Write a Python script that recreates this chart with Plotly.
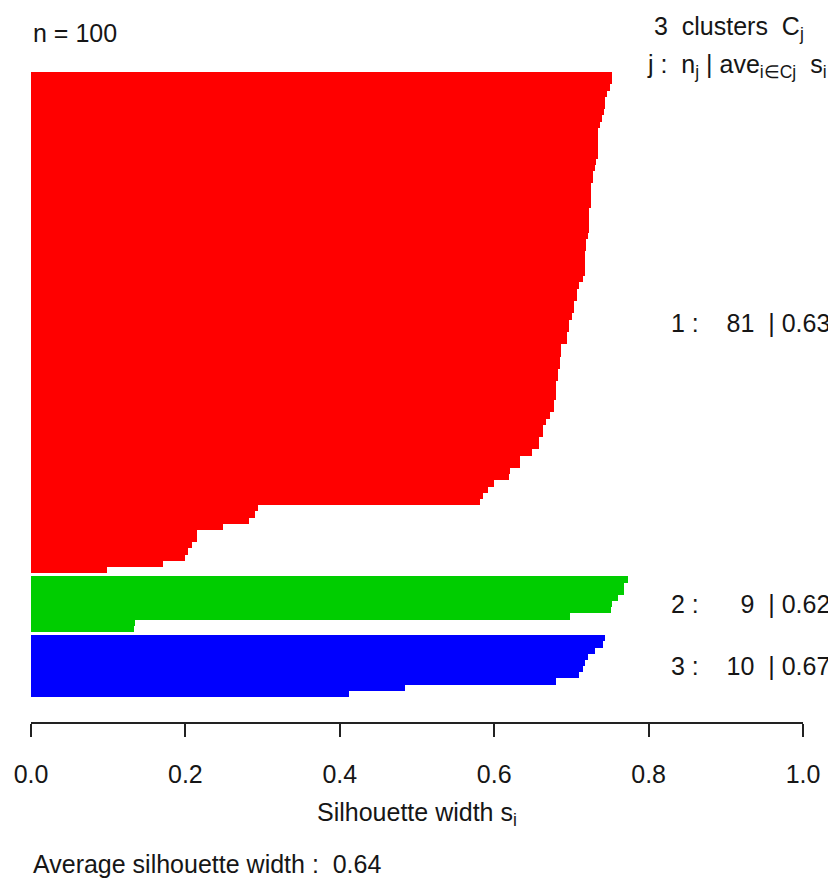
import plotly.graph_objects as go

# ---------------- data ----------------
cluster_ids = ["1", "2", "3"]
cluster_colors = ["#FF0000", "#00CD00", "#0000FF"]

sil_cluster1 = [
    0.753, 0.753, 0.750, 0.746, 0.744, 0.744, 0.742, 0.740, 0.737,
    0.735, 0.735, 0.734, 0.734, 0.734, 0.732, 0.730, 0.728, 0.728,
    0.726, 0.726, 0.726, 0.726, 0.723, 0.723, 0.723, 0.723, 0.721,
    0.719, 0.719, 0.717, 0.717, 0.717, 0.717, 0.715, 0.710, 0.707,
    0.707, 0.704, 0.704, 0.701, 0.697, 0.697, 0.694, 0.694, 0.687,
    0.687, 0.685, 0.685, 0.682, 0.682, 0.680, 0.680, 0.680, 0.678,
    0.678, 0.672, 0.667, 0.663, 0.663, 0.658, 0.658, 0.649, 0.633,
    0.633, 0.621, 0.619, 0.600, 0.592, 0.586, 0.581, 0.294, 0.290,
    0.283, 0.249, 0.215, 0.215, 0.209, 0.204, 0.199, 0.171, 0.098,
]
sil_cluster2 = [0.773, 0.768, 0.768, 0.761, 0.753, 0.751, 0.698, 0.135, 0.133]
sil_cluster3 = [0.744, 0.741, 0.731, 0.722, 0.717, 0.715, 0.710, 0.680, 0.485, 0.412]

cluster_avg_labels = ["0.63", "0.62", "0.67"]
overall_avg_label = "0.64"
n_total_label = "100"

x_tick_vals = [0.0, 0.2, 0.4, 0.6, 0.8, 1.0]
x_tick_text = ["0.0", "0.2", "0.4", "0.6", "0.8", "1.0"]

# ---------------- figure ----------------
OFF = 8                      # page body margin of the html page
W, H = 836 - OFF, 880 - OFF
X0_PIX, X1_PIX = 30.5, 802.7  # window pixels of x = 0 and x = 1
TOP_PIX, BOT_PIX = 47, 722    # window pixels of plot top / bottom
M_L = X0_PIX - OFF
M_R = W - (X1_PIX - OFF)
M_T = TOP_PIX - OFF
M_B = H - (BOT_PIX - OFF)
plot_h = H - M_T - M_B
plot_w = W - M_L - M_R

clusters = [sil_cluster1, sil_cluster2, sil_cluster3]
FONT = "Liberation Sans, Arial, sans-serif"
FS = 25
TXT = "#161616"
NB = "\u00a0"

fig = go.Figure()
pos = 0.0
centers = []
for k, vals in enumerate(clusters):
    if k > 0:
        pos += 0.5
    ys = [pos + i + 0.5 for i in range(len(vals))]
    centers.append(pos + len(vals) / 2.0)
    pos += len(vals)
    fig.add_trace(go.Bar(
        x=vals, y=ys, orientation="h", width=1.0,
        marker=dict(color=cluster_colors[k], line=dict(width=0)),
        showlegend=False, hoverinfo="x",
    ))

total = pos
pad = 0.04 * total
y_lo, y_hi = -pad, total + pad


def py(val):
    """paper y for a data y (reversed axis)"""
    return 1 - (val - y_lo) / (y_hi - y_lo)


def pyp(pix):
    """paper y for a window pixel row"""
    return (BOT_PIX - pix) / plot_h


def pxp(pix):
    """paper x for a window pixel column"""
    return (pix - X0_PIX) / plot_w


def ann(text, x, y, xanchor):
    return dict(text=text, xref="paper", yref="paper", x=x, y=y,
                xanchor=xanchor, yanchor="middle", showarrow=False,
                font=dict(family=FONT, size=FS, color=TXT))


annotations = []
for k, vals in enumerate(clusters):
    n_str = str(len(vals))
    n_str = NB * 2 * (2 - len(n_str)) + n_str
    label = f"{cluster_ids[k]}{NB}:{NB * 4}{n_str}{NB * 2}|{NB}{cluster_avg_labels[k]}"
    annotations.append(ann(label, pxp(832), py(centers[k]), "right"))

annotations += [
    ann(f"n{NB}={NB}{n_total_label}", pxp(31), pyp(33), "left"),
    ann(f"{len(clusters)}{NB}{NB}clusters{NB}{NB}C<sub>j</sub>", pxp(806), pyp(28), "right"),
    ann(f"j{NB}:{NB}{NB}n<sub>j</sub>{NB}|{NB}ave<sub>i∈Cj</sub>{NB}{NB}s<sub>i</sub>",
        pxp(829), pyp(66), "right"),
    ann("Silhouette width s<sub>i</sub>", pxp(416.6), pyp(814), "center"),
    ann(f"Average silhouette width{NB}:{NB}{NB}{overall_avg_label}", pxp(31), pyp(864), "left"),
]

fig.update_layout(
    width=W, height=H,
    margin=dict(l=M_L, r=M_R, t=M_T, b=M_B, pad=0, autoexpand=False),
    paper_bgcolor="white", plot_bgcolor="white",
    bargap=0, barmode="overlay",
    annotations=annotations,
    xaxis=dict(
        range=[0, 1], showgrid=False, zeroline=False,
        showline=True, linecolor="#222222", linewidth=1.5,
        ticks="outside", ticklen=13, tickwidth=1.5, tickcolor="#222222",
        tickvals=x_tick_vals, ticktext=x_tick_text,
        tickfont=dict(family=FONT, size=FS, color=TXT),
        ticklabelstandoff=16, automargin=False,
        fixedrange=True,
    ),
    yaxis=dict(
        range=[y_hi, y_lo], visible=False, showgrid=False, zeroline=False,
        fixedrange=True, automargin=False,
    ),
)

fig.write_html("out.html")
